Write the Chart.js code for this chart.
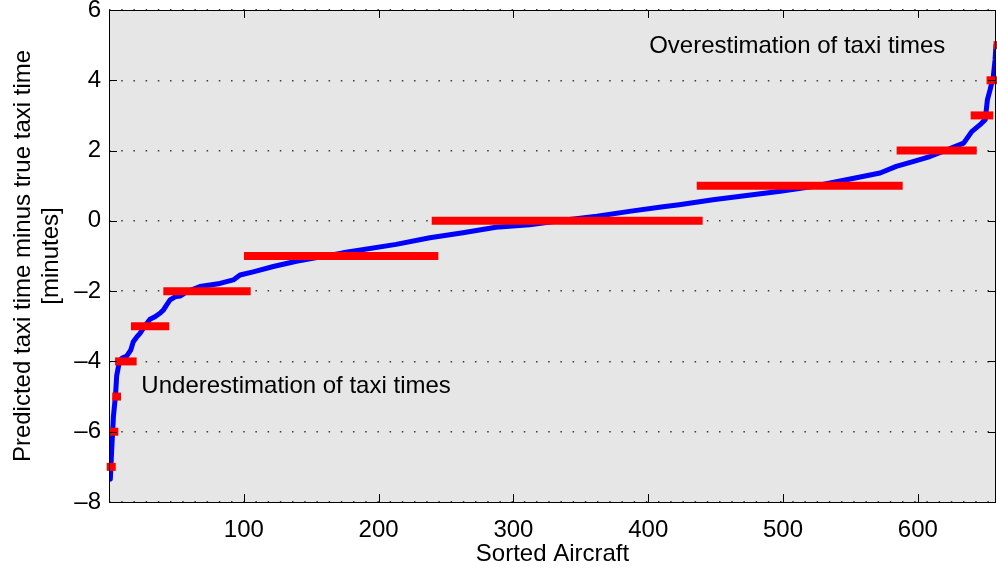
<!DOCTYPE html>
<html>
<head>
<meta charset="utf-8">
<script src="https://cdn.jsdelivr.net/npm/chart.js@4"></script>
<style>
  html, body { margin: 0; padding: 0; background: #fff; }
  #wrap { width: 997px; height: 569px; }
</style>
</head>
<body>
<div id="wrap"><canvas id="taxiChart" width="997" height="569"></canvas></div>
<script>
// Sorted aircraft vs. (predicted - true) taxi time
const sortedIndex = [1, 2, 3.3, 4.8, 5.7, 7.7, 9.4, 13.1, 16.1, 18, 20.5, 23, 25.4, 28, 30.4, 34.1,
    37.8, 40.3, 42.8, 45.3, 49, 52.7, 57.6, 67.5, 82.3, 92.2, 97.2, 107, 121.9, 139, 173.5, 213,
    238, 262.6, 287, 312, 337, 362, 386, 411, 423, 448, 473, 498, 522, 547, 572, 584, 597, 609,
    621.5, 634, 640, 646, 650, 651.6, 653.6, 656, 657.3, 658];
const errorMinutes = [-7.35, -6.5, -5.56, -4.98, -4.41, -4.01, -3.91, -3.85, -3.68, -3.44, -3.31,
    -3.2, -3.06, -2.92, -2.8, -2.73, -2.63, -2.54, -2.39, -2.25, -2.16, -2.14, -2.02, -1.87, -1.78,
    -1.68, -1.54, -1.45, -1.3, -1.15, -0.91, -0.67, -0.48, -0.34, -0.18, -0.11, 0.02, 0.13, 0.27,
    0.40, 0.46, 0.60, 0.72, 0.84, 0.98, 1.17, 1.36, 1.55, 1.69, 1.83, 2.02, 2.21, 2.54, 2.73, 2.88,
    3.44, 3.73, 4.11, 4.58, 5.0];

// Rounded prediction levels and the range of aircraft each one spans
const stepLevels = [-7, -6, -5, -4, -3, -2, -1, 0, 1, 2, 3, 4, 5];
const stepStart = [-1.7, 0.2, 2.4, 4.5, 16.3, 40.3, 100.1, 239.4, 436, 584.3, 639.2, 651, 656.2];
const stepEnd = [5.0, 6.9, 8.9, 20.5, 44.7, 105.1, 244.3, 440.4, 588.8, 643.7, 656, 659, 659];

const xTickValues = [100, 200, 300, 400, 500, 600];
const yTickValues = [-8, -6, -4, -2, 0, 2, 4, 6];

const FONT = "'Liberation Sans', Arial, Helvetica, sans-serif";
const FONT_SIZE = 24;

function minusLabel(v) {
    return v < 0 ? '\u2013' + Math.abs(v) : String(v);
}

// grey axes background, black box, inward ticks and the two notes
const axesBox = {
    id: 'axesBox',
    beforeDraw(chart) {
        const a = chart.chartArea;
        const ctx = chart.ctx;
        ctx.save();
        ctx.fillStyle = '#e6e6e6';
        ctx.fillRect(a.left, a.top, a.right - a.left, a.bottom - a.top);
        ctx.restore();
    },
    afterDraw(chart) {
        const a = chart.chartArea;
        const ctx = chart.ctx;
        const xs = chart.scales.x, ys = chart.scales.y;
        const tick = 8;
        ctx.save();
        ctx.strokeStyle = '#000';
        ctx.lineWidth = 1;
        ctx.beginPath();
        xTickValues.forEach(function(v) {
            const px = Math.round(xs.getPixelForValue(v)) + 0.5;
            ctx.moveTo(px, a.bottom); ctx.lineTo(px, a.bottom - tick);
            ctx.moveTo(px, a.top); ctx.lineTo(px, a.top + tick);
        });
        yTickValues.forEach(function(v) {
            const py = Math.round(ys.getPixelForValue(v)) + 0.5;
            ctx.moveTo(a.left, py); ctx.lineTo(a.left + tick, py);
            ctx.moveTo(a.right, py); ctx.lineTo(a.right - tick, py);
        });
        ctx.stroke();
        ctx.strokeRect(Math.round(a.left) + 0.5, Math.round(a.top) + 0.5,
            Math.round(a.right - a.left) - 1, Math.round(a.bottom - a.top));

        ctx.fillStyle = '#000';
        ctx.font = FONT_SIZE + 'px ' + FONT;
        ctx.textAlign = 'left';
        ctx.textBaseline = 'alphabetic';
        ctx.fillText('Overestimation of taxi times', xs.getPixelForValue(400.7), ys.getPixelForValue(4.77));
        ctx.fillText('Underestimation of taxi times', xs.getPixelForValue(24), ys.getPixelForValue(-4.9));
        ctx.restore();
    }
};

const datasets = [];
datasets.push({
    label: 'sorted error',
    data: sortedIndex.map(function(x, i) { return {x: x, y: errorMinutes[i]}; }),
    borderColor: '#0000ff',
    borderWidth: 5,
    pointRadius: 0,
    borderJoinStyle: 'round',
    borderCapStyle: 'round',
    tension: 0,
    order: 2
});
stepLevels.forEach(function(level, i) {
    datasets.push({
        label: 'level ' + level,
        data: [{x: stepStart[i], y: level}, {x: stepEnd[i], y: level}],
        borderColor: '#ff0000',
        borderWidth: 8,
        pointRadius: 0,
        borderCapStyle: 'butt',
        clip: 4,
        order: 1
    });
});

new Chart(document.getElementById('taxiChart'), {
    type: 'line',
    data: { datasets: datasets },
    plugins: [axesBox],
    options: {
        responsive: false,
        animation: false,
        events: [],
        layout: { padding: { top: 10, right: 1, bottom: 0, left: 0 } },
        plugins: {
            legend: { display: false },
            tooltip: { enabled: false }
        },
        scales: {
            x: {
                type: 'linear',
                min: 0,
                max: 658,
                afterBuildTicks: function(scale) {
                    scale.ticks = xTickValues.map(function(v) { return {value: v}; });
                },
                afterFit: function(scale) {
                    scale.height = 67;
                    scale.paddingLeft = 0;
                    scale.paddingRight = 0;
                },
                grid: { display: false },
                border: { display: false },
                ticks: {
                    autoSkip: false,
                    maxRotation: 0,
                    padding: 6,
                    color: '#000',
                    font: { family: FONT, size: FONT_SIZE }
                },
                title: {
                    display: true,
                    text: 'Sorted Aircraft',
                    color: '#000',
                    padding: { top: 0, bottom: 0 },
                    font: { family: FONT, size: FONT_SIZE }
                }
            },
            y: {
                type: 'linear',
                min: -8,
                max: 6,
                afterBuildTicks: function(scale) {
                    scale.ticks = yTickValues.map(function(v) { return {value: v}; });
                },
                afterFit: function(scale) {
                    scale.width = 109;
                    scale.paddingTop = 0;
                    scale.paddingBottom = 0;
                },
                grid: {
                    color: '#3a3a3a',
                    lineWidth: 1.5,
                    drawTicks: false
                },
                border: { display: false, dash: [1.5, 10.7] },
                ticks: {
                    padding: 8,
                    color: '#000',
                    font: { family: FONT, size: FONT_SIZE },
                    callback: minusLabel
                },
                title: {
                    display: true,
                    text: ['Predicted taxi time minus true taxi time', '[minutes]'],
                    color: '#000',
                    padding: { top: 8.6, bottom: 0 },
                    font: { family: FONT, size: FONT_SIZE }
                }
            }
        }
    }
});
</script>
</body>
</html>
